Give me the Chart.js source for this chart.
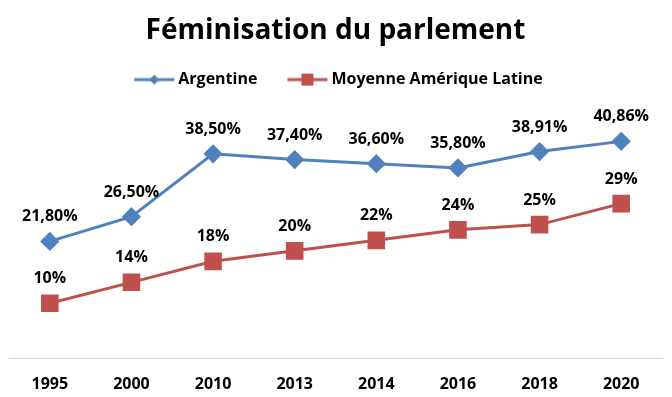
<!DOCTYPE html>
<html><head><meta charset="utf-8">
<script src="https://cdn.jsdelivr.net/npm/chart.js@4"></script>
<style>html,body{margin:0;padding:0;background:#fff}#w{width:672px;height:397px}</style>
</head><body><div id="w"><canvas id="c"></canvas></div>
<script>
const categories = ["1995","2000","2010","2013","2014","2016","2018","2020"];
const argentine = [21.8, 26.5, 38.5, 37.4, 36.6, 35.8, 38.91, 40.86];
const argentineLabels = ["21,80%","26,50%","38,50%","37,40%","36,60%","35,80%","38,91%","40,86%"];
const moyenne = [10, 14, 18, 20, 22, 24, 25, 29];
const moyenneLabels = ["10%","14%","18%","20%","22%","24%","25%","29%"];
const FONT = "'Open Sans', sans-serif";
const BLUE = "#4F81BD", RED = "#C0504D";
const SW = 56; // legend symbol slot width

function legendIcon(color, kind) {
  const c = document.createElement('canvas');
  c.width = 2 * SW; c.height = 16;
  const x = c.getContext('2d');
  const s = 1.5 * SW - 36, e = 1.5 * SW + 4, m = (s + e) / 2;
  x.strokeStyle = color; x.lineWidth = 3;
  x.beginPath(); x.moveTo(s, 8); x.lineTo(e, 8); x.stroke();
  x.fillStyle = color;
  if (kind === 'diamond') {
    x.beginPath(); x.moveTo(m, 3); x.lineTo(m + 5, 8); x.lineTo(m, 13); x.lineTo(m - 5, 8); x.closePath(); x.fill();
  } else {
    x.fillRect(m - 6, 2, 12, 12);
  }
  return c;
}
const icons = [legendIcon(BLUE, 'diamond'), legendIcon(RED, 'square')];

const labelPlugin = {
  id: 'dl',
  afterLayout(chart) {
    if (chart.legend) { chart.legend.left -= 7; chart.legend.right -= 7; }
  },
  afterDatasetsDraw(chart) {
    const ctx = chart.ctx;
    ctx.save();
    ctx.font = "bold 16px " + FONT;
    ctx.fillStyle = "#000";
    ctx.textAlign = "center";
    ctx.textBaseline = "alphabetic";
    chart.data.datasets.forEach((ds, i) => {
      const meta = chart.getDatasetMeta(i);
      meta.data.forEach((pt, j) => {
        ctx.fillText(ds.labelsText[j], pt.x, pt.y - 20);
      });
    });
    ctx.restore();
  }
};

new Chart(document.getElementById('c'), {
  type: 'line',
  data: {
    labels: categories,
    datasets: [
      { label: "Argentine", data: argentine, labelsText: argentineLabels,
        borderColor: BLUE, backgroundColor: BLUE, borderWidth: 3,
        pointStyle: 'rectRot', pointRadius: 7.5, pointHoverRadius: 7.5 },
      { label: "Moyenne Amérique Latine", data: moyenne, labelsText: moyenneLabels,
        borderColor: RED, backgroundColor: RED, borderWidth: 3,
        pointStyle: 'rect', pointRadius: 10.3, pointHoverRadius: 10.3 }
    ]
  },
  options: {
    responsive: true, maintainAspectRatio: false, animation: false,
    layout: { autoPadding: false, padding: { left: 9, right: 10, top: 2, bottom: -13 } },
    plugins: {
      tooltip: { enabled: false },
      title: { display: true, text: "Féminisation du parlement", color: "#000",
        font: { family: FONT, size: 28, weight: 'bold' }, padding: { top: 12, bottom: 14 } },
      legend: { display: true, position: 'top',
        labels: { color: "#000", font: { family: FONT, size: 16, weight: 'bold' },
          usePointStyle: true, pointStyleWidth: SW, boxHeight: 15, padding: 10,
          generateLabels(chart) {
            return chart.data.datasets.map((ds, i) => ({
              text: ds.label, fillStyle: ds.backgroundColor, strokeStyle: ds.borderColor,
              lineWidth: 0, pointStyle: icons[i], datasetIndex: i, fontColor: "#000"
            }));
          } } }
    },
    scales: {
      x: { offset: true, grid: { display: false, drawTicks: false },
        border: { display: true, color: "#d9d9d9", width: 1 },
        ticks: { color: "#000", font: { family: FONT, size: 16, weight: 'bold' }, padding: 16 } },
      y: { display: false, min: -0.57, max: 49.2 }
    }
  },
  plugins: [labelPlugin]
});
</script></body></html>
